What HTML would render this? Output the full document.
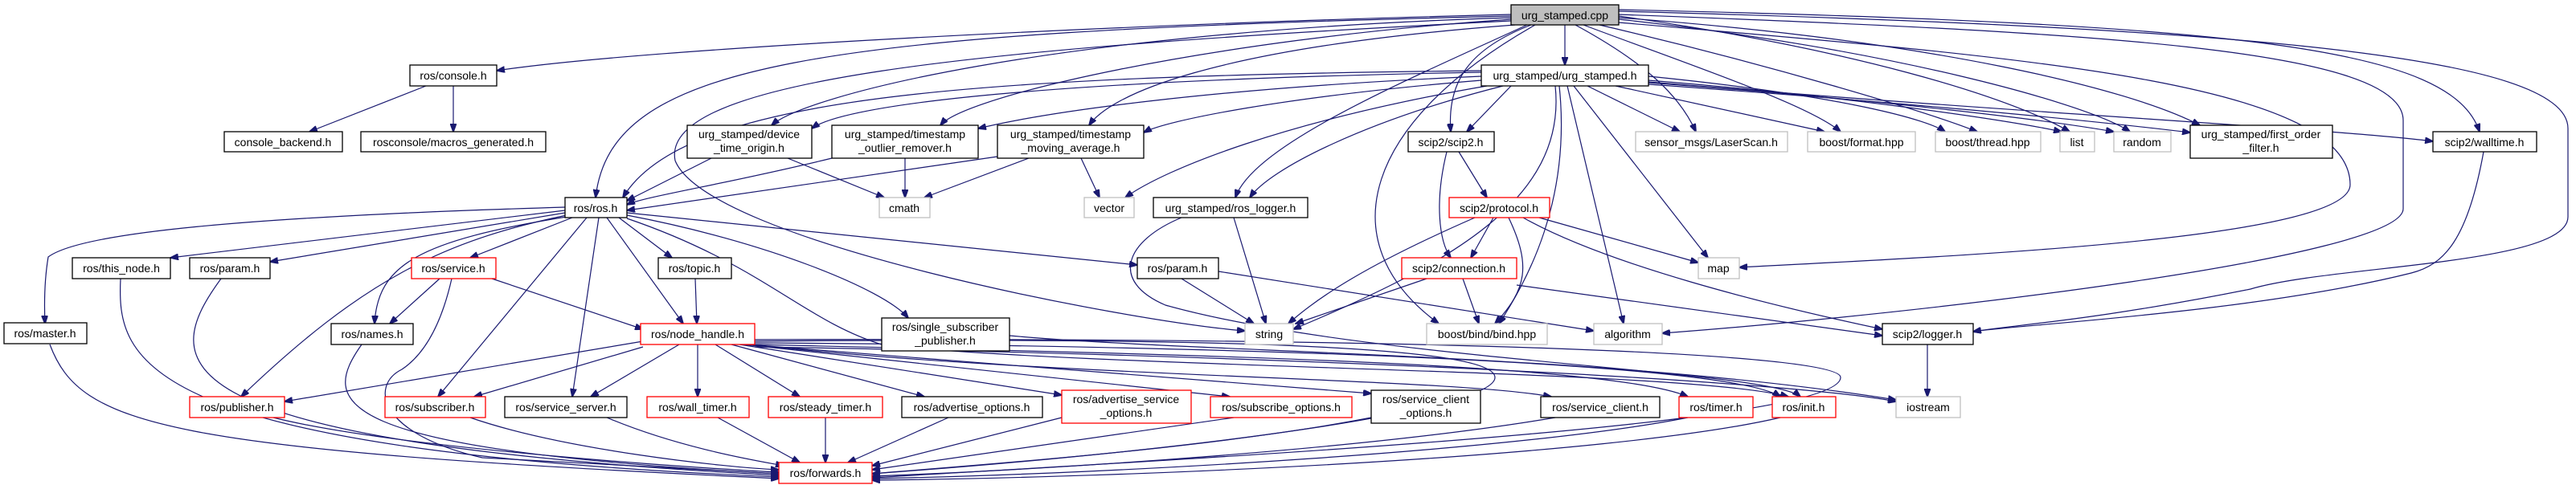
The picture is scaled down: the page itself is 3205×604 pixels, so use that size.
<!DOCTYPE html>
<html><head><meta charset="utf-8"><style>
html,body{margin:0;padding:0;background:#fff;}
svg{display:block;}
text{font-family:"Liberation Sans",sans-serif;font-size:14px;fill:#000;text-anchor:middle;}
.n{fill:#fff;stroke:#000;stroke-width:1.3;}
.r{fill:#fff;stroke:#ff0000;stroke-width:1.3;}
.g{fill:#fff;stroke:#bfbfbf;stroke-width:1.3;}
.e{fill:none;stroke:#191970;stroke-width:1.2;marker-end:url(#a);}
</style></head><body>
<svg width="3205" height="604" viewBox="0 0 3205 604" xmlns="http://www.w3.org/2000/svg">
<defs><marker id="a" markerUnits="userSpaceOnUse" markerWidth="11" markerHeight="8" refX="10" refY="4" orient="auto"><path d="M0,0 L11,4 L0,8 z" fill="#191970" stroke="#191970"/></marker></defs>
<g>
<!-- cpp edges -->
<path class="e" d="M1880,18 C1400,30 800,60 618,88"/>
<path class="e" d="M1880,20 C1000,40 760,80 741,246"/>
<path class="e" d="M1880,22 C1300,40 1000,120 960,156"/>
<path class="e" d="M1880,24 C1500,50 1200,120 1170,156"/>
<path class="e" d="M1885,31 C1500,60 1380,120 1355,156"/>
<path class="e" d="M1947,31 L1947,81"/>
<path class="e" d="M1905,31 C1830,60 1800,100 1805,164"/>
<path class="e" d="M1900,31 C1750,100 1560,180 1537,246"/>
<path class="e" d="M1880,26 C1200,60 820,100 840,200 C880,300 1400,400 1549,412"/>
<path class="e" d="M1910,31 C1700,150 1650,300 1790,403"/>
<path class="e" d="M1960,31 C2050,80 2090,120 2110,164"/>
<path class="e" d="M1970,31 C2100,80 2250,130 2290,164"/>
<path class="e" d="M1990,31 C2200,80 2400,140 2460,164"/>
<path class="e" d="M2014,20 C2300,60 2500,120 2575,164"/>
<path class="e" d="M2014,24 C2350,60 2600,130 2650,164"/>
<path class="e" d="M2014,22 C2400,50 2650,110 2737,156"/>
<path class="e" d="M2014,28 C2500,70 2924,100 2924,230 C2924,300 2400,320 2164,333"/>
<path class="e" d="M2014,18 C2600,40 2990,60 2990,150 L2990,260 C2990,320 2400,390 2068,415"/>
<path class="e" d="M2014,14 C2800,35 3195,70 3195,160 L3195,270 C3195,330 2900,330 2800,360 C2600,400 2500,405 2455,413"/>
<path class="e" d="M2014,12 C2800,30 3050,60 3085,164"/>
<!-- urg_stamped.h edges -->
<path class="e" d="M1843,88 C1200,95 850,120 775,246"/>
<path class="e" d="M1843,90 C1300,100 1050,130 1010,160"/>
<path class="e" d="M1843,95 C1500,110 1300,140 1217,160"/>
<path class="e" d="M1843,100 C1600,120 1450,150 1423,165"/>
<path class="e" d="M1880,107 L1825,164"/>
<path class="e" d="M1850,107 C1600,150 1450,210 1400,246"/>
<path class="e" d="M1870,107 C1700,150 1580,210 1555,246"/>
<path class="e" d="M1935,107 C1950,250 1800,330 1609,410"/>
<path class="e" d="M1940,107 C1955,250 1900,350 1865,403"/>
<path class="e" d="M1950,107 L2020,403"/>
<path class="e" d="M1958,107 L2125,321"/>
<path class="e" d="M1975,107 L2090,164"/>
<path class="e" d="M2010,107 L2270,164"/>
<path class="e" d="M2051,95 C2300,120 2400,150 2420,164"/>
<path class="e" d="M2051,100 C2300,120 2500,150 2565,164"/>
<path class="e" d="M2051,103 C2350,125 2550,150 2630,164"/>
<path class="e" d="M2051,105 C2400,130 2600,150 2725,165"/>
<path class="e" d="M2051,102 C2500,140 2900,160 3027,176"/>
<!-- console -->
<path class="e" d="M530,107 L385,164"/>
<path class="e" d="M564,107 L564,164"/>
<!-- urg_stamped internals -->
<path class="e" d="M885,197 L780,250"/>
<path class="e" d="M980,197 L1100,246"/>
<path class="e" d="M1035,197 C900,230 800,245 780,255"/>
<path class="e" d="M1126,197 L1126,246"/>
<path class="e" d="M1241,195 L780,262"/>
<path class="e" d="M1280,197 L1150,246"/>
<path class="e" d="M1345,197 L1368,246"/>
<!-- scip2 -->
<path class="e" d="M1815,189 L1850,246"/>
<path class="e" d="M1800,189 C1785,250 1790,300 1805,321"/>
<path class="e" d="M1858,271 L1830,321"/>
<path class="e" d="M1835,271 C1700,330 1640,370 1603,403"/>
<path class="e" d="M1877,271 C1905,330 1900,360 1860,403"/>
<path class="e" d="M1915,271 L2113,327"/>
<path class="e" d="M1895,271 C2000,330 2200,380 2342,410"/>
<path class="e" d="M1775,347 L1612,403"/>
<path class="e" d="M1820,347 L1840,403"/>
<path class="e" d="M1887,355 L2342,418"/>
<path class="e" d="M3090,189 C3070,300 3040,330 3000,340 C2800,390 2500,405 2455,413"/>
<path class="e" d="M2398,429 L2398,494"/>
<path class="e" d="M1535,271 L1575,403"/>
<path class="e" d="M1470,271 C1400,300 1380,350 1450,380 C1700,450 2200,460 2240,494"/>
<path class="e" d="M1470,347 L1560,403"/>
<path class="e" d="M1516,338 L1983,412"/>
<!-- ros.h -->
<path class="e" d="M703,258 C300,270 100,290 60,320 C55,350 55,380 56,403"/>
<path class="e" d="M703,262 L212,321"/>
<path class="e" d="M703,265 L336,326"/>
<path class="e" d="M705,268 C550,300 450,350 300,494"/>
<path class="e" d="M705,270 C520,300 470,330 466,403"/>
<path class="e" d="M712,271 L585,321"/>
<path class="e" d="M730,271 L545,494"/>
<path class="e" d="M745,271 L712,494"/>
<path class="e" d="M755,271 L850,403"/>
<path class="e" d="M770,271 L836,321"/>
<path class="e" d="M780,268 C950,300 1100,360 1130,396"/>
<path class="e" d="M780,265 L1415,330"/>
<path class="e" d="M780,272 C950,330 1000,400 1100,430 C1400,460 2100,460 2225,494"/>
<!-- service / topic -->
<path class="e" d="M547,347 L485,403"/>
<path class="e" d="M612,347 L800,410"/>
<path class="e" d="M562,347 C550,400 530,440 500,460 C460,480 470,540 600,570 L969,590"/>
<path class="e" d="M865,347 L867,403"/>
<!-- node_handle -->
<path class="e" d="M800,425 L354,500"/>
<path class="e" d="M800,432 L590,494"/>
<path class="e" d="M845,429 L735,494"/>
<path class="e" d="M868,429 L868,494"/>
<path class="e" d="M890,429 L995,494"/>
<path class="e" d="M910,429 L1150,494"/>
<path class="e" d="M920,429 L1321,492"/>
<path class="e" d="M925,429 L1530,494"/>
<path class="e" d="M930,429 L1706,490"/>
<path class="e" d="M935,429 C1300,470 1800,470 1930,494"/>
<path class="e" d="M939,429 C1400,440 2000,450 2100,494"/>
<path class="e" d="M939,427 C1500,430 2150,450 2215,494"/>
<path class="e" d="M939,432 C1500,440 2200,470 2359,500"/>
<path class="e" d="M939,425 C1500,420 1860,430 1860,470 C1860,510 1500,560 1085,590"/>
<path class="e" d="M939,423 C1800,420 2290,440 2290,470 C2290,530 1500,570 1085,595"/>
<path class="e" d="M1256,418 C1500,440 2000,440 2359,498"/>
<!-- to forwards -->
<path class="e" d="M62,429 C100,530 200,560 969,596"/>
<path class="e" d="M150,347 C145,450 170,560 969,594"/>
<path class="e" d="M275,347 C200,450 180,550 969,592"/>
<path class="e" d="M450,429 C400,500 400,560 969,590"/>
<path class="e" d="M340,520 C500,560 900,585 969,588"/>
<path class="e" d="M585,520 C700,560 900,582 969,585"/>
<path class="e" d="M755,520 C850,560 950,575 975,580"/>
<path class="e" d="M893,520 L995,576"/>
<path class="e" d="M1027,520 L1027,576"/>
<path class="e" d="M1180,520 L1055,576"/>
<path class="e" d="M1321,520 L1085,580"/>
<path class="e" d="M1535,520 L1085,585"/>
<path class="e" d="M1706,520 C1500,560 1200,580 1085,590"/>
<path class="e" d="M1935,520 C1700,560 1300,585 1085,593"/>
<path class="e" d="M2100,520 C1900,560 1400,590 1085,596"/>
<path class="e" d="M2215,520 C2000,570 1400,595 1085,598"/>
</g>
<g>
<rect x="1880" y="6" width="134" height="25" fill="#bfbfbf" stroke="#000" stroke-width="1.3"/><text x="1947" y="24">urg_stamped.cpp</text>
<rect class="n" x="1843" y="81" width="208" height="26"/><text x="1947" y="99">urg_stamped/urg_stamped.h</text>
<rect class="n" x="510" y="81" width="108" height="26"/><text x="564" y="99">ros/console.h</text>
<rect class="n" x="279" y="164" width="147" height="25"/><text x="352" y="182">console_backend.h</text>
<rect class="n" x="449" y="164" width="230" height="25"/><text x="564" y="182">rosconsole/macros_generated.h</text>
<rect class="n" x="855" y="156" width="155" height="41"/><text x="932" y="172">urg_stamped/device</text><text x="932" y="189">_time_origin.h</text>
<rect class="n" x="1035" y="156" width="182" height="41"/><text x="1126" y="172">urg_stamped/timestamp</text><text x="1126" y="189">_outlier_remover.h</text>
<rect class="n" x="1241" y="156" width="182" height="41"/><text x="1332" y="172">urg_stamped/timestamp</text><text x="1332" y="189">_moving_average.h</text>
<rect class="n" x="1752" y="164" width="107" height="25"/><text x="1805" y="182">scip2/scip2.h</text>
<rect class="g" x="2035" y="164" width="189" height="25"/><text x="2129" y="182">sensor_msgs/LaserScan.h</text>
<rect class="g" x="2249" y="164" width="134" height="25"/><text x="2316" y="182">boost/format.hpp</text>
<rect class="g" x="2408" y="164" width="131" height="25"/><text x="2473" y="182">boost/thread.hpp</text>
<rect class="g" x="2563" y="164" width="43" height="25"/><text x="2584" y="182">list</text>
<rect class="g" x="2630" y="164" width="71" height="25"/><text x="2665" y="182">random</text>
<rect class="n" x="2725" y="156" width="177" height="41"/><text x="2813" y="172">urg_stamped/first_order</text><text x="2813" y="189">_filter.h</text>
<rect class="n" x="3027" y="164" width="129" height="25"/><text x="3091" y="182">scip2/walltime.h</text>
<rect class="n" x="703" y="246" width="77" height="25"/><text x="741" y="264">ros/ros.h</text>
<rect class="g" x="1094" y="246" width="63" height="25"/><text x="1125" y="264">cmath</text>
<rect class="g" x="1349" y="246" width="62" height="25"/><text x="1380" y="264">vector</text>
<rect class="n" x="1435" y="246" width="192" height="25"/><text x="1531" y="264">urg_stamped/ros_logger.h</text>
<rect class="r" x="1803" y="246" width="125" height="25"/><text x="1865" y="264">scip2/protocol.h</text>
<rect class="n" x="90" y="321" width="122" height="26"/><text x="151" y="339">ros/this_node.h</text>
<rect class="n" x="236" y="321" width="100" height="26"/><text x="286" y="339">ros/param.h</text>
<rect class="r" x="512" y="321" width="105" height="26"/><text x="564" y="339">ros/service.h</text>
<rect class="n" x="819" y="321" width="91" height="26"/><text x="864" y="339">ros/topic.h</text>
<rect class="n" x="1415" y="321" width="101" height="26"/><text x="1465" y="339">ros/param.h</text>
<rect class="r" x="1744" y="321" width="143" height="26"/><text x="1815" y="339">scip2/connection.h</text>
<rect class="g" x="2113" y="321" width="51" height="26"/><text x="2138" y="339">map</text>
<rect class="n" x="5" y="402" width="103" height="26"/><text x="56" y="420">ros/master.h</text>
<rect class="n" x="412" y="403" width="102" height="26"/><text x="463" y="421">ros/names.h</text>
<rect class="r" x="797" y="403" width="142" height="26"/><text x="868" y="421">ros/node_handle.h</text>
<rect class="n" x="1097" y="396" width="159" height="41"/><text x="1176" y="412">ros/single_subscriber</text><text x="1176" y="429">_publisher.h</text>
<rect class="g" x="1549" y="403" width="60" height="26"/><text x="1579" y="421">string</text>
<rect class="g" x="1775" y="403" width="150" height="26"/><text x="1850" y="421">boost/bind/bind.hpp</text>
<rect class="g" x="1983" y="403" width="85" height="26"/><text x="2025" y="421">algorithm</text>
<rect class="n" x="2342" y="403" width="113" height="26"/><text x="2398" y="421">scip2/logger.h</text>
<rect class="r" x="236" y="494" width="118" height="26"/><text x="295" y="512">ros/publisher.h</text>
<rect class="r" x="479" y="494" width="125" height="26"/><text x="541" y="512">ros/subscriber.h</text>
<rect class="n" x="628" y="494" width="152" height="26"/><text x="704" y="512">ros/service_server.h</text>
<rect class="r" x="805" y="494" width="127" height="26"/><text x="868" y="512">ros/wall_timer.h</text>
<rect class="r" x="956" y="494" width="142" height="26"/><text x="1027" y="512">ros/steady_timer.h</text>
<rect class="n" x="1122" y="494" width="175" height="26"/><text x="1209" y="512">ros/advertise_options.h</text>
<rect class="r" x="1321" y="486" width="161" height="41"/><text x="1401" y="502">ros/advertise_service</text><text x="1401" y="519">_options.h</text>
<rect class="r" x="1506" y="494" width="176" height="26"/><text x="1594" y="512">ros/subscribe_options.h</text>
<rect class="n" x="1706" y="486" width="136" height="41"/><text x="1774" y="502">ros/service_client</text><text x="1774" y="519">_options.h</text>
<rect class="n" x="1917" y="494" width="148" height="26"/><text x="1991" y="512">ros/service_client.h</text>
<rect class="r" x="2089" y="494" width="92" height="26"/><text x="2135" y="512">ros/timer.h</text>
<rect class="r" x="2205" y="494" width="79" height="26"/><text x="2244" y="512">ros/init.h</text>
<rect class="g" x="2359" y="494" width="80" height="26"/><text x="2399" y="512">iostream</text>
<rect class="r" x="969" y="576" width="116" height="26"/><text x="1027" y="594">ros/forwards.h</text>
</g>
</svg>
</body></html>
